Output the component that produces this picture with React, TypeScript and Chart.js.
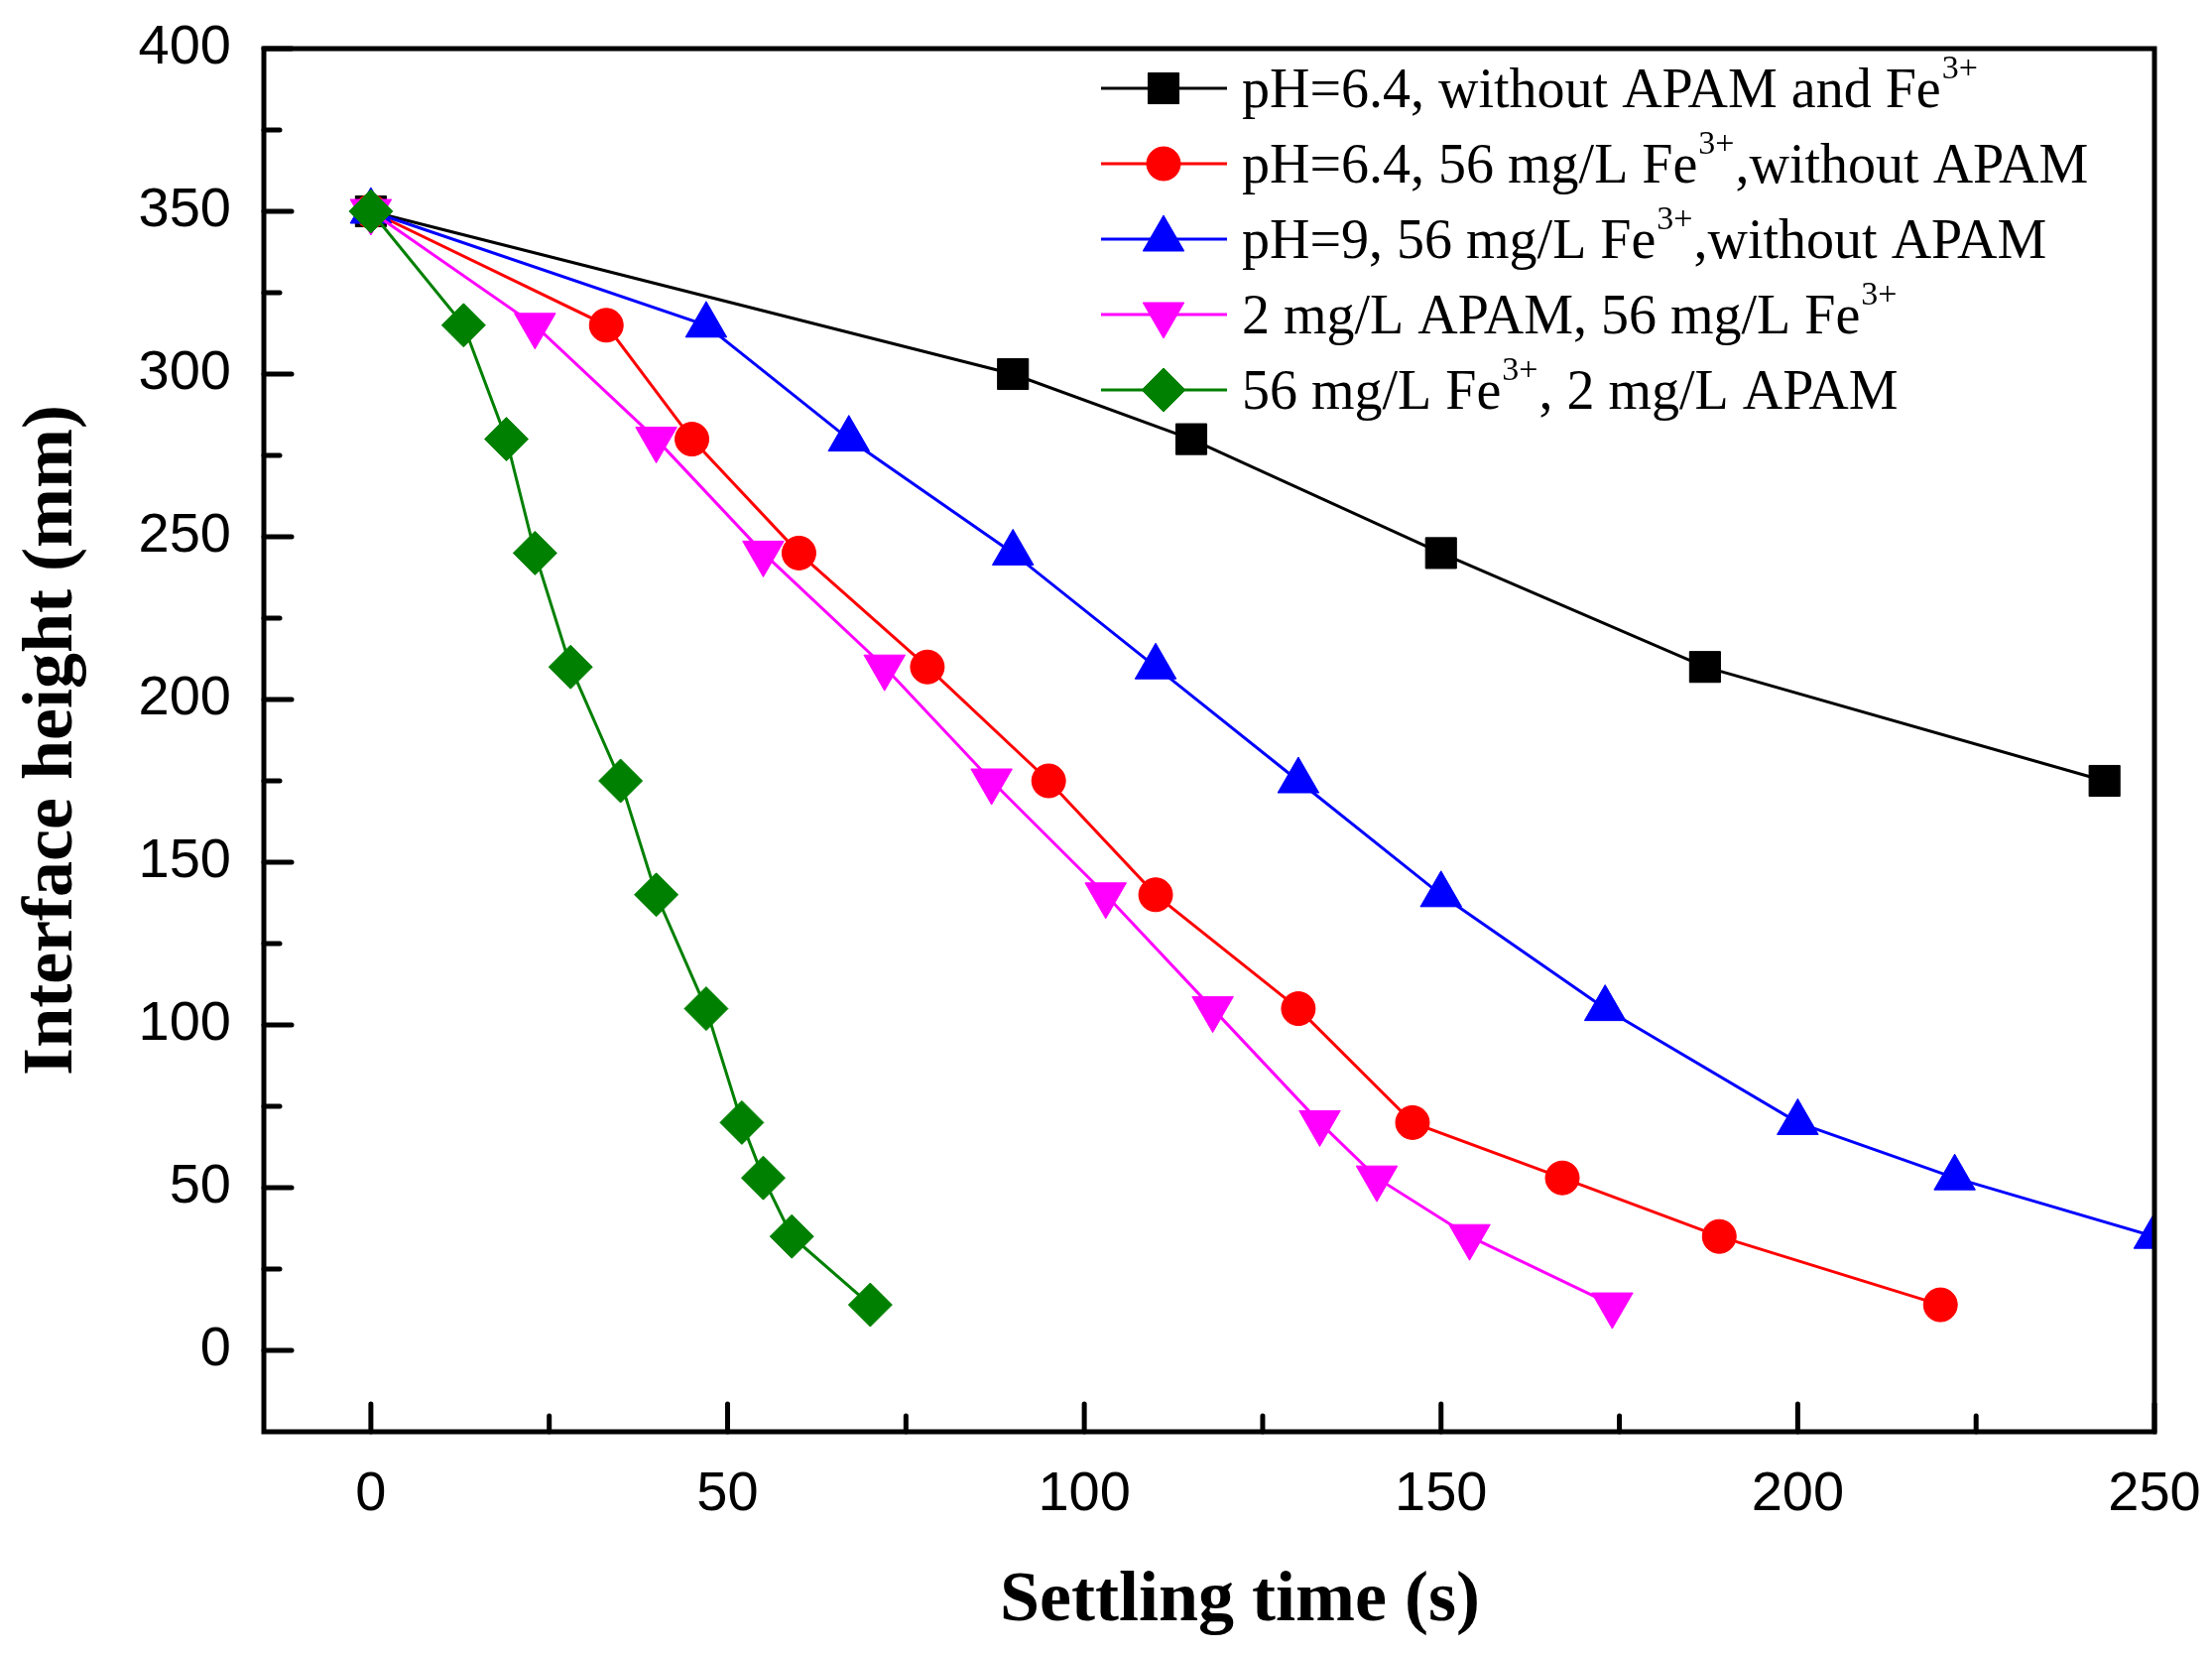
import { useEffect, useRef } from "react"
import { Chart, registerables } from "chart.js"
import { drawPoint } from "chart.js/helpers"

Chart.register(...registerables)

// settling curves (time in s, interface height in mm)
const blackTime = [0, 90, 115, 150, 187, 243]
const blackHeight = [350, 300, 280, 245, 210, 175]
const redTime = [0, 33, 45, 60, 78, 95, 110, 130, 146, 167, 189, 220]
const redHeight = [350, 315, 280, 245, 210, 175, 140, 105, 70, 53, 35, 14]
const blueTime = [0, 47, 67, 90, 110, 130, 150, 173, 200, 222, 250]
const blueHeight = [350, 315, 280, 245, 210, 175, 140, 105, 70, 53, 35]
const pinkTime = [0, 23, 40, 55, 72, 87, 103, 118, 133, 141, 154, 174]
const pinkHeight = [350, 315, 280, 245, 210, 175, 140, 105, 70, 53, 35, 14]
const greenTime = [0, 13, 19, 23, 28, 35, 40, 47, 52, 55, 59, 70]
const greenHeight = [350, 315, 280, 245, 210, 175, 140, 105, 70, 53, 35, 14]

// legend label pieces: before superscript, superscript, after
const legendText = [
  ["pH=6.4, without APAM and Fe", "3+", ""],
  ["pH=6.4, 56 mg/L Fe", "3+", ",without APAM"],
  ["pH=9, 56 mg/L Fe", "3+", ",without APAM"],
  ["2 mg/L APAM, 56 mg/L Fe", "3+", ""],
  ["56 mg/L Fe", "3+", ", 2 mg/L APAM"],
]

const xTitle = "Settling time (s)"
const yTitle = "Interface height (mm)"
const xTickValues = [0, 50, 100, 150, 200, 250]
const yTickValues = [0, 50, 100, 150, 200, 250, 300, 350, 400]

const toPoints = (xs: number[], ys: number[]) => xs.map((x, i) => ({ x, y: ys[i] }))

const serif = "'Liberation Serif', 'Times New Roman', serif"
const sans = "'Liberation Sans', Arial, sans-serif"

// frame + inward ticks on left/bottom axes
const framePlugin = {
  id: "frame",
  afterDatasetsDraw(chart: any) {
    const { ctx, chartArea: a, scales } = chart
    ctx.save()
    ctx.strokeStyle = "#000"
    ctx.lineWidth = 5
    ctx.lineCap = "round"
    const tick = (x1: number, y1: number, x2: number, y2: number) => {
      ctx.beginPath()
      ctx.moveTo(x1, y1)
      ctx.lineTo(x2, y2)
      ctx.stroke()
    }
    yTickValues.forEach((v, i) => {
      const y = scales.y.getPixelForValue(v)
      tick(a.left, y, a.left + 28, y)
      if (i < yTickValues.length - 1) {
        const ym = scales.y.getPixelForValue((v + yTickValues[i + 1]) / 2)
        tick(a.left, ym, a.left + 16, ym)
      }
    })
    xTickValues.forEach((v, i) => {
      const x = scales.x.getPixelForValue(v)
      tick(x, a.bottom, x, a.bottom - 28)
      if (i < xTickValues.length - 1) {
        const xm = scales.x.getPixelForValue((v + xTickValues[i + 1]) / 2)
        tick(xm, a.bottom, xm, a.bottom - 16)
      }
    })
    ctx.lineCap = "butt"
    ctx.strokeRect(a.left, a.top, a.right - a.left, a.bottom - a.top)

    // x axis title, centred a bit right of the plot centre like the original
    ctx.fillStyle = "#000"
    ctx.font = `bold 72px ${serif}`
    ctx.textAlign = "center"
    ctx.textBaseline = "alphabetic"
    ctx.fillText(xTitle, 1250, 1633)
    ctx.restore()
  },
}

// legend in the top-right corner, with superscripts
const legendPlugin = {
  id: "supLegend",
  afterDraw(chart: any) {
    const { ctx } = chart
    ctx.save()
    chart.data.datasets.forEach((ds: any, i: number) => {
      const y = 89 + i * 76
      ctx.strokeStyle = ds.borderColor
      ctx.fillStyle = ds.backgroundColor
      ctx.lineWidth = 3
      ctx.beginPath()
      ctx.moveTo(1110, y)
      ctx.lineTo(1237, y)
      ctx.stroke()
      ctx.lineWidth = 1
      drawPoint(ctx, { pointStyle: ds.pointStyle, rotation: ds.pointRotation || 0, radius: ds.pointRadius, borderWidth: 1 }, 1173, y)

      const [pre, sup, post] = legendText[i]
      const base = y + 19
      ctx.fillStyle = "#000"
      ctx.textBaseline = "alphabetic"
      ctx.textAlign = "left"
      let x = 1252
      ctx.font = `56px ${serif}`
      ctx.fillText(pre, x, base)
      x += ctx.measureText(pre).width
      ctx.font = `34px ${serif}`
      ctx.fillText(sup, x + 1, base - 29)
      x += ctx.measureText(sup).width + 2
      ctx.font = `56px ${serif}`
      ctx.fillText(post, x, base)
    })
    ctx.restore()
  },
}

export default function App() {
  const chartRef = useRef<HTMLCanvasElement>(null)
  const chartInstance = useRef<Chart | null>(null)

  useEffect(() => {
    if (!chartRef.current) return
    if (chartInstance.current) chartInstance.current.destroy()

    const series = (label: string, color: string, xs: number[], ys: number[], pointStyle: string, radius: number, order: number, rotation = 0) => ({
      label,
      data: toPoints(xs, ys),
      borderColor: color,
      backgroundColor: color,
      pointBackgroundColor: color,
      pointBorderColor: color,
      pointBorderWidth: 1,
      borderWidth: 3,
      pointStyle,
      pointRotation: rotation,
      pointRadius: radius,
      tension: 0,
      clip: 0,
      order,
    })

    chartInstance.current = new Chart(chartRef.current, {
      type: "line",
      data: {
        datasets: [
          series("pH=6.4, without APAM and Fe3+", "#000000", blackTime, blackHeight, "rect", 22, 5),
          series("pH=6.4, 56 mg/L Fe3+,without APAM", "#ff0000", redTime, redHeight, "circle", 17, 4),
          series("pH=9, 56 mg/L Fe3+,without APAM", "#0000ff", blueTime, blueHeight, "triangle", 24, 3),
          series("2 mg/L APAM, 56 mg/L Fe3+", "#ff00ff", pinkTime, pinkHeight, "triangle", 24, 2, 180),
          series("56 mg/L Fe3+, 2 mg/L APAM", "#008000", greenTime, greenHeight, "rectRot", 22, 1),
        ] as any,
      },
      options: {
        animation: false,
        responsive: true,
        maintainAspectRatio: false,
        devicePixelRatio: 1,
        layout: { padding: { top: 49, right: 58, left: 0, bottom: 0 } },
        scales: {
          x: {
            type: "linear",
            min: -15,
            max: 250,
            afterBuildTicks: (scale: any) => {
              scale.ticks = xTickValues.map((value) => ({ value }))
            },
            afterFit: (scale: any) => {
              scale.height = 224
              scale.paddingLeft = 0
              scale.paddingRight = 0
            },
            grid: { display: false, drawTicks: false },
            border: { display: false },
            ticks: { color: "#000", font: { family: sans, size: 56 }, padding: 30, maxRotation: 0 },
            title: { display: false },
          },
          y: {
            type: "linear",
            min: -25,
            max: 400,
            afterBuildTicks: (scale: any) => {
              scale.ticks = yTickValues.map((value) => ({ value }))
            },
            afterFit: (scale: any) => {
              scale.width = 266
              scale.paddingTop = 0
              scale.paddingBottom = 0
            },
            grid: { display: false, drawTicks: false },
            border: { display: false },
            ticks: { color: "#000", font: { family: sans, size: 56 }, padding: 33 },
            title: {
              display: true,
              text: yTitle,
              color: "#000",
              font: { family: serif, size: 72, weight: "bold" },
              padding: { top: 10, bottom: 0 },
            },
          },
        },
        plugins: {
          legend: { display: false },
          tooltip: { enabled: false },
        },
      },
      plugins: [framePlugin, legendPlugin],
    })

    return () => {
      if (chartInstance.current) {
        chartInstance.current.destroy()
        chartInstance.current = null
      }
    }
  }, [])

  return (
    <div style={{ position: "absolute", left: 0, top: 0, width: 2230, height: 1667, background: "#fff" }}>
      <canvas ref={chartRef} />
    </div>
  )
}
